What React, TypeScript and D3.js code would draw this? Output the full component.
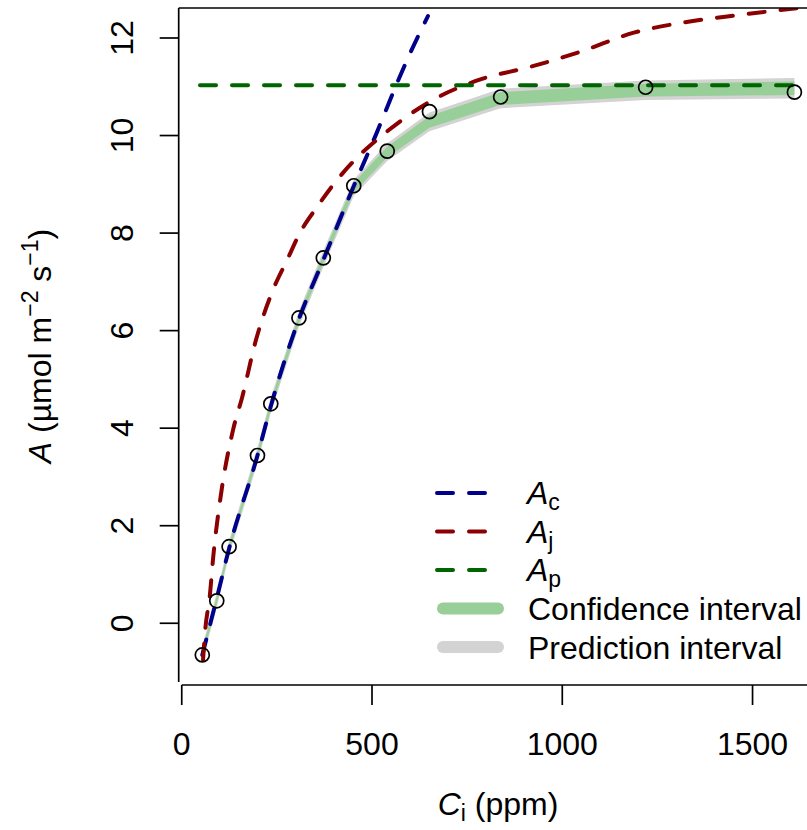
import React from 'react';
import * as d3 from 'd3';

// observed points (Ci in ppm, A in umol m-2 s-1)
const obsCi = [54, 92, 124.5, 199, 234, 308, 372, 452, 540, 651, 838, 1219, 1610];
const obsA = [-0.65, 0.46, 1.57, 3.44, 4.5, 6.26, 7.49, 8.97, 9.68, 10.49, 10.79, 10.99, 10.89];

// fitted curve at the observed Ci with half-widths of the two bands
const fitA = [-0.62, 0.47, 1.55, 3.44, 4.47, 6.24, 7.47, 8.93, 9.66, 10.28, 10.76, 10.93, 10.97];
const ciHalf = [0.08, 0.08, 0.08, 0.08, 0.09, 0.09, 0.09, 0.1, 0.11, 0.12, 0.13, 0.13, 0.14];
const piHalf = [0.15, 0.15, 0.15, 0.16, 0.16, 0.16, 0.17, 0.17, 0.18, 0.19, 0.2, 0.2, 0.21];

// rubisco-limited rate
const acCi = [54, 90, 125, 199, 234, 308, 372, 448, 512, 565, 595, 647];
const acA = [-0.65, 0.45, 1.55, 3.44, 4.45, 6.24, 7.45, 8.89, 10.05, 11.06, 11.6, 12.45];

// electron-transport-limited rate
const ajCi = [56, 61, 74.5, 82, 101, 135, 159, 193, 240, 277, 311, 356, 398, 469, 514, 653, 785, 917, 1048, 1188, 1320, 1452, 1628];
const ajA = [-0.75, -0.2, 0.62, 1.3, 2.53, 3.97, 4.64, 5.75, 6.84, 7.45, 8.01, 8.54, 8.99, 9.61, 9.92, 10.7, 11.15, 11.41, 11.72, 12.11, 12.32, 12.46, 12.62];

// TPU-limited rate
const apCi = [48, 1612];
const apA = [11.03, 11.03];

const xTicks = [0, 500, 1000, 1500];
const yTicks = [0, 2, 4, 6, 8, 10, 12];

const legendItems = [
  { sub: 'c', color: '#00008B', kind: 'dash' },
  { sub: 'j', color: '#8B0000', kind: 'dash' },
  { sub: 'p', color: '#006400', kind: 'dash' },
  { text: 'Confidence interval', color: '#98CE98', kind: 'band' },
  { text: 'Prediction interval', color: '#D3D3D3', kind: 'band' },
];

const FONT = '"Liberation Sans", Arial, sans-serif';
const FS = 32;
const SUB = 23;

export default function App() {
  const width = 807;
  const height = 830;
  const left = 178.7;
  const right = 818;
  const top = 8;
  const bottom = 685;

  const x = d3.scaleLinear().domain([-8, 1672]).range([left, right]);
  const y = d3.scaleLinear().domain([-1.266, 12.615]).range([bottom, top]);

  const line = d3.line<[number, number]>().x((d) => x(d[0])).y((d) => y(d[1]));
  const smooth = d3.line<[number, number]>().x((d) => x(d[0])).y((d) => y(d[1])).curve(d3.curveMonotoneX);
  const band = (half: number[]) =>
    d3.area<number>()
      .x((_, i) => x(obsCi[i]))
      .y0((_, i) => y(fitA[i] - half[i]))
      .y1((_, i) => y(fitA[i] + half[i]))(obsCi.map((_, i) => i)) || '';

  const zip = (a: number[], b: number[]) => a.map((v, i) => [v, b[i]] as [number, number]);

  return (
    <svg width={width} height={height} style={{ position: 'absolute', left: 0, top: 0, background: '#fff' }} fontFamily={FONT}>
      <defs>
        <clipPath id="plot">
          <rect x={left} y={top} width={right - left} height={bottom - top} />
        </clipPath>
      </defs>

      <g clipPath="url(#plot)">
        <path d={band(piHalf)} fill="#D3D3D3" />
        <path d={band(ciHalf)} fill="#98CE98" />
        <path d={smooth(zip(acCi, acA)) || ''} fill="none" stroke="#00008B" strokeWidth={4} strokeDasharray="16 16" strokeLinecap="round" />
        <path d={smooth(zip(ajCi, ajA)) || ''} fill="none" stroke="#8B0000" strokeWidth={4} strokeDasharray="16 16" strokeLinecap="round" />
        <path d={line(zip(apCi, apA)) || ''} fill="none" stroke="#006400" strokeWidth={4} strokeDasharray="16 16" strokeLinecap="round" />
        {obsCi.map((c, i) => (
          <circle key={i} cx={x(c)} cy={y(obsA[i])} r={7} fill="none" stroke="#000" strokeWidth={1.7} />
        ))}
      </g>

      {/* box: left and top */}
      <line x1={left} x2={left} y1={top} y2={bottom - 3} stroke="#000" strokeWidth={1.7} />
      <line x1={left} x2={width} y1={top} y2={top} stroke="#000" strokeWidth={1.7} />

      {/* x axis */}
      <line x1={x(0)} x2={width} y1={bottom} y2={bottom} stroke="#000" strokeWidth={1.7} />
      {xTicks.map((t) => (
        <g key={t}>
          <line x1={x(t)} x2={x(t)} y1={bottom} y2={bottom + 20} stroke="#000" strokeWidth={1.7} />
          <text x={x(t)} y={755} fontSize={FS} textAnchor="middle">{t}</text>
        </g>
      ))}

      {/* y axis */}
      {yTicks.map((t) => (
        <g key={t}>
          <line x1={left - 19} x2={left} y1={y(t)} y2={y(t)} stroke="#000" strokeWidth={1.7} />
          <text transform={`translate(133,${y(t)}) rotate(-90)`} fontSize={FS} textAnchor="middle">{t}</text>
        </g>
      ))}

      {/* axis titles */}
      <text x={498} y={815} fontSize={FS} textAnchor="middle">
        <tspan fontStyle="italic">C</tspan>
        <tspan fontSize={SUB} dy={6}>i</tspan>
        <tspan dy={-6}> (ppm)</tspan>
      </text>
      <text transform="translate(51,346) rotate(-90)" fontSize={FS} textAnchor="middle">
        <tspan fontStyle="italic">A</tspan>
        <tspan> (µmol m</tspan>
        <tspan fontSize={SUB} dy={-13}>−2</tspan>
        <tspan dy={13}> s</tspan>
        <tspan fontSize={SUB} dy={-13}>−1</tspan>
        <tspan dy={13}>)</tspan>
      </text>

      {/* legend */}
      {legendItems.map((d, i) => {
        const ly = 493 + i * 38.5;
        return (
          <g key={i}>
            {d.kind === 'dash' ? (
              <line x1={437} x2={490} y1={ly} y2={ly} stroke={d.color} strokeWidth={4} strokeDasharray="16 16" strokeLinecap="round" />
            ) : (
              <line x1={443} x2={498} y1={ly} y2={ly} stroke={d.color} strokeWidth={12} strokeLinecap="round" />
            )}
            {d.kind === 'dash' ? (
              <text x={527} y={ly + 11} fontSize={FS}>
                <tspan fontStyle="italic">A</tspan>
                <tspan fontSize={SUB} dy={6}>{d.sub}</tspan>
              </text>
            ) : (
              <text x={528} y={ly + 11.5} fontSize={FS}>{d.text}</text>
            )}
          </g>
        );
      })}
    </svg>
  );
}
